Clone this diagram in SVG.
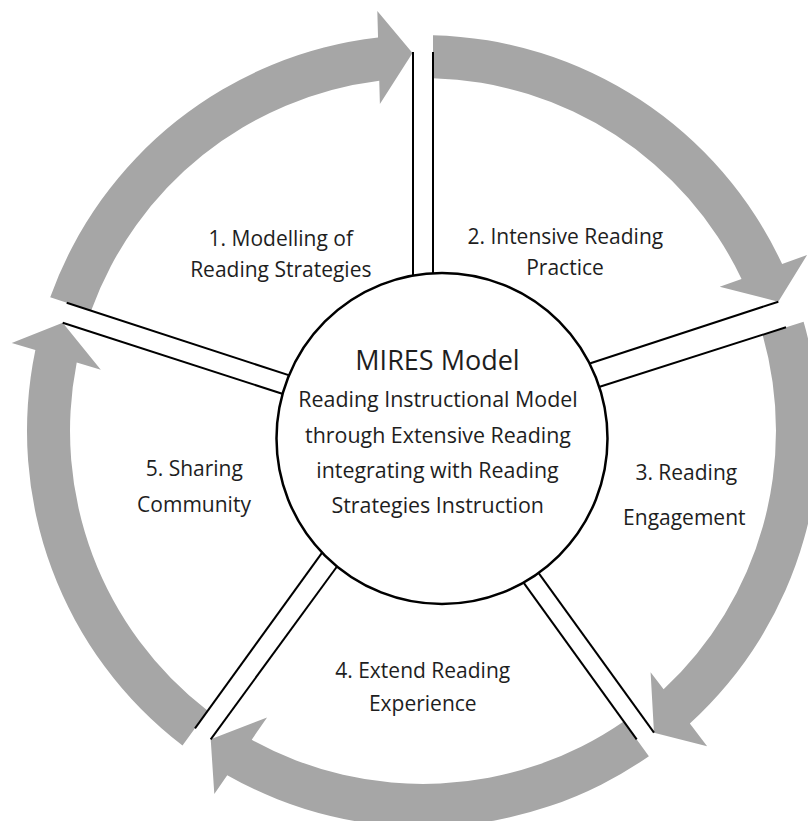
<svg xmlns="http://www.w3.org/2000/svg" width="808" height="821" viewBox="0 0 808 821">
  <style>
    .arrow { fill: #A6A6A6; stroke: none; }
    .spoke { stroke: #000; stroke-width: 2; fill: none; }
    .hub { fill: #fff; stroke: #000; stroke-width: 2.5; }
    .lbl { font-family: "Open Sans", "Noto Sans", "DejaVu Sans", sans-serif; font-size: 21px; fill: #1e1e1e; text-anchor: middle; }
    .mid { font-size: 21.4px; }
    .title { font-family: "Open Sans", "Noto Sans", "DejaVu Sans", sans-serif; font-size: 27px; fill: #1e1e1e; text-anchor: middle; }
  </style>
  <rect width="808" height="821" fill="#fff"/>
  <g id="connectors">
    <path class="arrow" d="M 433 35.13 A 396 396 0 0 1 782.13 264.12 L 807.08 255.04 L 778.3 301.7 L 719.68 286.85 L 741.55 278.89 A 353 353 0 0 0 433 78.14 Z"/>
    <path class="arrow" d="M 803.6 321.7 A 396 396 0 0 1 689.85 723.59 L 707.14 746.17 L 654 732.7 L 650.6 672.33 L 663.6 689.31 A 353 353 0 0 0 762.6 334.75 Z"/>
    <path class="arrow" d="M 648.9 756.2 A 396 396 0 0 1 227.24 775.22 L 214.31 793.99 L 210.7 739.3 L 267.06 717.4 L 251.73 739.66 A 353 353 0 0 0 623.7 721.4 Z"/>
    <path class="arrow" d="M 182.5 745.6 A 396 396 0 0 1 35.37 349.99 L 11.73 342.88 L 62.7 322.7 L 100.8 369.66 L 76.73 362.42 A 353 353 0 0 0 207.7 710.7 Z"/>
    <path class="arrow" d="M 50.2 297.3 A 396 396 0 0 1 378.05 37.56 L 377.32 10.96 L 412.5 53 L 379.9 103.92 L 379.25 80.72 A 353 353 0 0 0 91.1 310.7 Z"/>
  </g>
  <g id="dividers">
    <line class="spoke" x1="413" y1="52" x2="413" y2="282"/>
    <line class="spoke" x1="433" y1="52" x2="433" y2="280"/>
    <line class="spoke" x1="778.3" y1="301.7" x2="584.3" y2="365.2"/>
    <line class="spoke" x1="786" y1="327.3" x2="594.3" y2="388.5"/>
    <line class="spoke" x1="654" y1="732.7" x2="535.8" y2="569.1"/>
    <line class="spoke" x1="636.7" y1="739.3" x2="520.5" y2="578.4"/>
    <line class="spoke" x1="210.7" y1="739.3" x2="339.2" y2="563.5"/>
    <line class="spoke" x1="195" y1="728.3" x2="325.2" y2="548.4"/>
    <line class="spoke" x1="62.7" y1="322.7" x2="288.4" y2="395.8"/>
    <line class="spoke" x1="66.7" y1="302.7" x2="294" y2="376.9"/>
  </g>
  <g id="center">
    <circle class="hub" cx="442" cy="438.5" r="165.5"/>
    <text class="title" x="437.5" y="370">MIRES Model</text>
    <text class="lbl mid" x="438" y="406.7">Reading Instructional Model</text>
    <text class="lbl mid" x="438" y="443">through Extensive Reading</text>
    <text class="lbl mid" x="437.5" y="478">integrating with Reading</text>
    <text class="lbl mid" x="437.7" y="513">Strategies Instruction</text>
  </g>
  <g id="stage-1">
    <text class="lbl" x="280.8" y="245.5">1. Modelling of</text>
    <text class="lbl" x="280.8" y="276.7">Reading Strategies</text>
  </g>
  <g id="stage-2">
    <text class="lbl" x="565.3" y="243.5">2. Intensive Reading</text>
    <text class="lbl" x="565" y="275">Practice</text>
  </g>
  <g id="stage-3">
    <text class="lbl" x="686.3" y="480">3. Reading</text>
    <text class="lbl" x="684.3" y="525">Engagement</text>
  </g>
  <g id="stage-4">
    <text class="lbl" x="422.7" y="678.3">4. Extend Reading</text>
    <text class="lbl" x="422.8" y="710.5">Experience</text>
  </g>
  <g id="stage-5">
    <text class="lbl" x="194.3" y="476">5. Sharing</text>
    <text class="lbl" x="194" y="511.7">Community</text>
  </g>
</svg>
